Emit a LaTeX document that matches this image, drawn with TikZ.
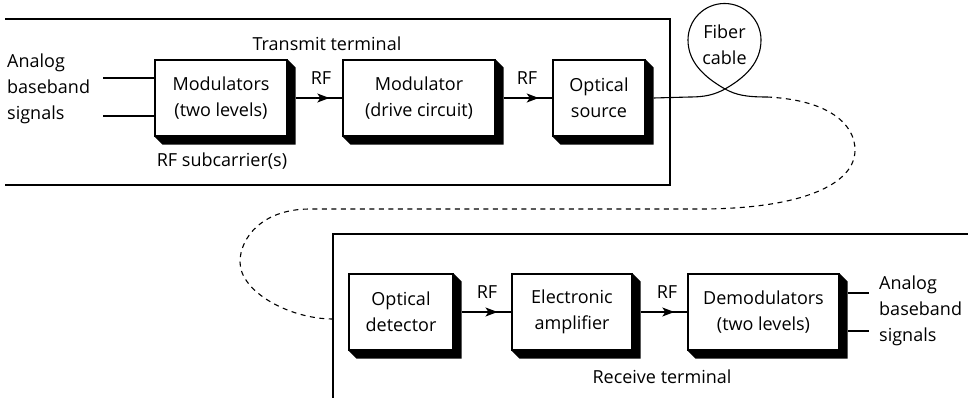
\documentclass[tikz,border=0pt]{standalone}
\usepackage{fontspec}
\setmainfont{Open Sans}
\usetikzlibrary{arrows.meta,decorations.markings}
\begin{document}
\begin{tikzpicture}[x=1pt,y=-1pt,
  every node/.style={font=\fontsize{18}{26}\selectfont, inner sep=0pt},
  blk/.style={draw, fill=white, line width=1.1pt, align=center, minimum height=76pt},
  ln/.style={line width=1.1pt},
  midarrow/.style={line width=1.1pt, postaction={decorate},
    decoration={markings, mark=at position 0.72 with {\arrow{Stealth[length=12pt,width=9pt,inset=3pt]}}}},
  fiber/.style={line width=1.1pt},
  fiberdash/.style={line width=1.1pt, dash pattern=on 5pt off 4.5pt}]
\useasboundingbox (0,0) rectangle (968,398);
% frames
\coordinate (t1) at (5,19); \coordinate (t2) at (670,19);
\coordinate (t3) at (670,185); \coordinate (t4) at (5,185);
\draw[ln] (t1) -- (t2) -- (t3) -- (t4);
\coordinate (r1) at (968,234); \coordinate (r2) at (333,234); \coordinate (r3) at (333,398);
\draw[ln] (r1) -- (r2) -- (r3);
% boxes
\node[blk, minimum width=132pt] (mod) at (221,98) {Modulators\\(two levels)};
\node[blk, minimum width=152pt] (drv) at (419,98) {Modulator\\(drive circuit)};
\node[blk, minimum width=92pt] (src) at (599,98) {Optical\\source};
\node[blk, minimum width=104pt] (det) at (401,312) {Optical\\detector};
\node[blk, minimum width=120pt] (amp) at (572,312) {Electronic\\amplifier};
\node[blk, minimum width=151pt] (dem) at (763.5,312) {Demodulators\\(two levels)};
% shadows
\foreach \n in {mod,drv,src,det,amp,dem}{
  \fill (\n.north east) -- ([shift={(8,8)}]\n.north east) -- ([shift={(8,8)}]\n.south east)
     -- ([shift={(8,8)}]\n.south west) -- (\n.south west) -- (\n.south east) -- cycle;
  \draw[line width=1.1pt] (\n.north west) rectangle (\n.south east);
}
% RF arrows
\draw[midarrow] ([xshift=8pt]mod.east) -- (drv.west);
\draw[midarrow] ([xshift=8pt]drv.east) -- (src.west);
\draw[midarrow] ([xshift=8pt]det.east) -- (amp.west);
\draw[midarrow] ([xshift=8pt]amp.east) -- (dem.west);
\node (rf1) at (321,78) {RF};
\node (rf2) at (527,78) {RF};
\node (rf3) at (487,292) {RF};
\node (rf4) at (667,292) {RF};
% inputs
\coordinate (in1) at (103,78); \coordinate (in2) at (103,116);
\draw[ln] (in1) -- (in1 -| mod.west);
\draw[ln] (in2) -- (in2 -| mod.west);
\node[anchor=west, align=left] (ain) at (7,89) {Analog\\baseband\\signals};
\node (tt) at (327,44) {Transmit terminal};
\node (rfs) at (222,161) {RF subcarrier(s)};
% outputs
\coordinate (o1) at (869,293); \coordinate (o2) at (869,331);
\draw[ln] ([xshift=8pt]dem.east |- o1) -- (o1);
\draw[ln] ([xshift=8pt]dem.east |- o2) -- (o2);
\node[anchor=west, align=left] (aout) at (879,311) {Analog\\baseband\\signals};
\node (rt) at (662,377) {Receive terminal};
% fiber loop
\node[align=center] (fib) at (724.5,45) {Fiber\\cable};
\coordinate (f1) at (690,97);
\coordinate (fx) at (725,89);
\coordinate (f2) at (767,97);
\draw[fiber] ([xshift=8pt]src.east) -- (f1) .. controls (704,97) and (714,95) .. (fx)
  .. controls (746,77) and (761,62) .. (761,40) arc[start angle=0, end angle=-180, radius=36.5]
  .. controls (688,62) and (704,77) .. (fx)
  .. controls (736,95) and (746,97) .. (f2);
\coordinate (d1) at (855,150);
\coordinate (d2) at (700,209);
\coordinate (d3) at (310,209);
\coordinate (d4) at (240,262);
\coordinate (d5) at (333,319);
\draw[fiberdash] (f2) .. controls (830,100) and (855,125) .. (d1)
  .. controls (855,185) and (800,209) .. (d2) -- (d3)
  .. controls (262,209) and (240,238) .. (d4)
  .. controls (240,292) and (290,319) .. (d5);
\end{tikzpicture}
\end{document}
